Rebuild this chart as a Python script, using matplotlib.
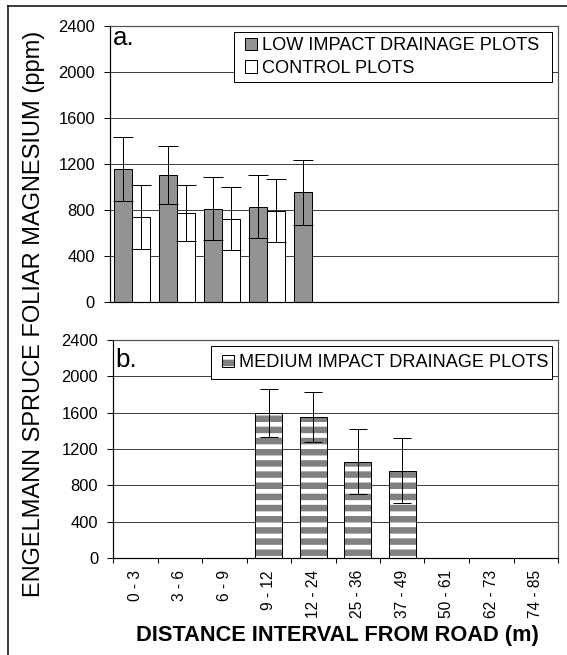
import numpy as np
import matplotlib
matplotlib.use("Agg")
import matplotlib.pyplot as plt
from matplotlib.lines import Line2D
from matplotlib.patches import Rectangle

# ---------------- data ----------------
categories = ['0 - 3', '3 - 6', '6 - 9', '9 - 12', '12 - 24',
              '25 - 36', '37 - 49', '50 - 61', '62 - 73', '74 - 85']
low_mean = [1152, 1103, 810, 828, 955, None, None, None, None, None]
low_err = [278, 249, 272, 275, 282, None, None, None, None, None]
ctrl_mean = [740, 773, 724, 793, None, None, None, None, None, None]
ctrl_err = [278, 246, 272, 273, None, None, None, None, None, None]
med_mean = [None, None, None, 1597, 1552, 1060, 960, None, None, None]
med_err = [None, None, None, 261, 276, 356, 356, None, None, None]
yticks = [0, 400, 800, 1200, 1600, 2000, 2400]
label_low = 'LOW IMPACT DRAINAGE PLOTS'
label_ctrl = 'CONTROL PLOTS'
label_med = 'MEDIUM IMPACT DRAINAGE PLOTS'
ylabel = 'ENGELMANN SPRUCE FOLIAR MAGNESIUM (ppm)'
xlabel = 'DISTANCE INTERVAL FROM ROAD (m)'

# ---------------- style ----------------
W, H, DPI = 567, 655, 134
PX = 72.0 / DPI  # points per pixel

plt.rcParams['font.family'] = ['Liberation Sans', 'DejaVu Sans']
plt.rcParams['hatch.linewidth'] = 6.5 * PX

fig = plt.figure(figsize=(W / DPI, H / DPI), dpi=DPI)
fig.patch.set_facecolor('white')


def fx(px):
    return px / W


def fy(py):
    return 1 - py / H


ax_a = fig.add_axes([fx(110), fy(302), fx(558) - fx(110), fy(25.7) - fy(302)])
ax_b = fig.add_axes([fx(113), fy(558), fx(558) - fx(113), fy(340) - fy(558)])

GRAY = '#939393'
HATCH_GRAY = '#808080'


def sel(vals, errs):
    idx = [i for i, v in enumerate(vals) if v is not None]
    return (np.array(idx, float), np.array([vals[i] for i in idx], float),
            np.array([errs[i] for i in idx], float))


def style_axes(ax):
    ax.set_xlim(-0.5, len(categories) - 0.5)
    ax.set_ylim(0, 2400)
    ax.set_yticks(yticks)
    ax.set_yticklabels([str(t) for t in yticks])
    ax.set_axisbelow(True)
    ax.grid(axis='y', color='#404040', linewidth=1 * PX)
    ax.tick_params(axis='y', direction='out', length=6 * PX, width=1 * PX,
                   pad=9 * PX, labelsize=16.5 * PX, colors='black')
    for s in ['left', 'bottom']:
        ax.spines[s].set_color('black')
        ax.spines[s].set_linewidth(1.2 * PX)
    for s in ['top', 'right']:
        ax.spines[s].set_color('#505050')
        ax.spines[s].set_linewidth(1.2 * PX)


class SquareHandler:
    """Legend handle: a small square drawn at the right end of the handle box."""

    def legend_artist(self, legend, orig_handle, fontsize, handlebox):
        handles = orig_handle if isinstance(orig_handle, tuple) else (orig_handle,)
        size = handlebox.height
        x = -handlebox.xdescent + handlebox.width - size
        y = -handlebox.ydescent
        last = None
        for h in handles:
            r = Rectangle((x, y), size, size, facecolor=h.get_facecolor(),
                          edgecolor=h.get_edgecolor(),
                          linewidth=h.get_linewidth(), hatch=h.get_hatch(),
                          transform=handlebox.get_transform())
            handlebox.add_artist(r)
            last = r
        return last


def style_legend(leg):
    fr = leg.get_frame()
    fr.set_edgecolor('black')
    fr.set_linewidth(1 * PX)
    fr.set_alpha(1)


style_axes(ax_a)
style_axes(ax_b)

LEG_FS = 18.2  # px
leg_kw = dict(loc='upper right', mode='expand', borderaxespad=0,
              fontsize=LEG_FS * PX, frameon=True, fancybox=False,
              shadow=False, handleheight=12 / LEG_FS,
              handletextpad=5 / LEG_FS, labelspacing=0.3)

# ---------------- panel a ----------------
bw = 0.4
xl, yl, el = sel(low_mean, low_err)
xc, yc, ec = sel(ctrl_mean, ctrl_err)
b_low = ax_a.bar(xl - bw / 2, yl, width=bw, color=GRAY, edgecolor='black',
                 linewidth=1 * PX, label=label_low)
b_ctrl = ax_a.bar(xc + bw / 2, yc, width=bw, color='white', edgecolor='black',
                  linewidth=1 * PX, label=label_ctrl)
ax_a.errorbar(xl - bw / 2, yl, yerr=el, fmt='none', ecolor='black',
              elinewidth=1 * PX, capsize=10 * PX, capthick=1 * PX)
ax_a.errorbar(xc + bw / 2, yc, yerr=ec, fmt='none', ecolor='black',
              elinewidth=1 * PX, capsize=10 * PX, capthick=1 * PX)
ax_a.set_xticks([])
ax_a.tick_params(axis='x', length=0, labelbottom=False)

a_left = (234 - 110) / 448
a_top = (302 - 32) / 276.3
pad_a = 0.3
leg_a = ax_a.legend(handles=[b_low[0], b_ctrl[0]],
                    labels=[label_low, label_ctrl],
                    bbox_to_anchor=(a_left, 0, 0.9866 - a_left, a_top),
                    handler_map={Rectangle: SquareHandler()},
                    borderpad=pad_a,
                    handlelength=(23 - pad_a * LEG_FS) / LEG_FS, **leg_kw)
style_legend(leg_a)

ax_a.text(0.007, 0.930, 'a.', transform=ax_a.transAxes, ha='left',
          va='baseline', fontsize=26 * PX)

# ---------------- panel b ----------------
mw = 0.6
xm, ym, em = sel(med_mean, med_err)
b_med_fill = ax_b.bar(xm, ym, width=mw, color='white', edgecolor=HATCH_GRAY,
                      linewidth=0, hatch='--')
b_med_edge = ax_b.bar(xm, ym, width=mw, color='none', edgecolor='black',
                      linewidth=1 * PX)
ax_b.errorbar(xm, ym, yerr=em, fmt='none', ecolor='black',
              elinewidth=1 * PX, capsize=9 * PX, capthick=1 * PX)

ax_b.set_xticks(np.arange(-0.5, len(categories), 1.0))
ax_b.set_xticklabels([])
ax_b.set_xticks(np.arange(len(categories)), minor=True)
ax_b.set_xticklabels(categories, minor=True, rotation=90)
ax_b.tick_params(axis='x', which='major', direction='out', length=5 * PX,
                 width=1 * PX, colors='black')
ax_b.tick_params(axis='x', which='minor', length=0, pad=12 * PX,
                 labelsize=15.5 * PX)

b_left = (211 - 113) / 445
b_top = (558 - 346) / 218
pad_b = 0.45
leg_b = ax_b.legend(handles=[(b_med_fill[0], b_med_edge[0])],
                    labels=[label_med],
                    bbox_to_anchor=(b_left, 0, 0.9865 - b_left, b_top),
                    handler_map={tuple: SquareHandler()},
                    borderpad=pad_b,
                    handlelength=(23 - pad_b * LEG_FS) / LEG_FS, **leg_kw)
style_legend(leg_b)

ax_b.text(0.0045, 0.8775, 'b.', transform=ax_b.transAxes, ha='left',
          va='baseline', fontsize=26 * PX)

# ---------------- axis titles ----------------
fig.text(fx(40), fy(314), ylabel, rotation=90, rotation_mode='anchor',
         ha='center', va='baseline', fontsize=23.7 * PX)
fig.text(fx(337), fy(641), xlabel, ha='center', va='baseline',
         fontsize=21.8 * PX, fontweight='bold')

# ---------------- outer frame (left and top edges) ----------------
fig.add_artist(Line2D([fx(8), fx(8)], [0, fy(6)], transform=fig.transFigure,
                      color='black', linewidth=1.5 * PX))
fig.add_artist(Line2D([fx(8), 1], [fy(6), fy(6)], transform=fig.transFigure,
                      color='black', linewidth=1.5 * PX))

fig.savefig('out.png', dpi=DPI, facecolor='white')
